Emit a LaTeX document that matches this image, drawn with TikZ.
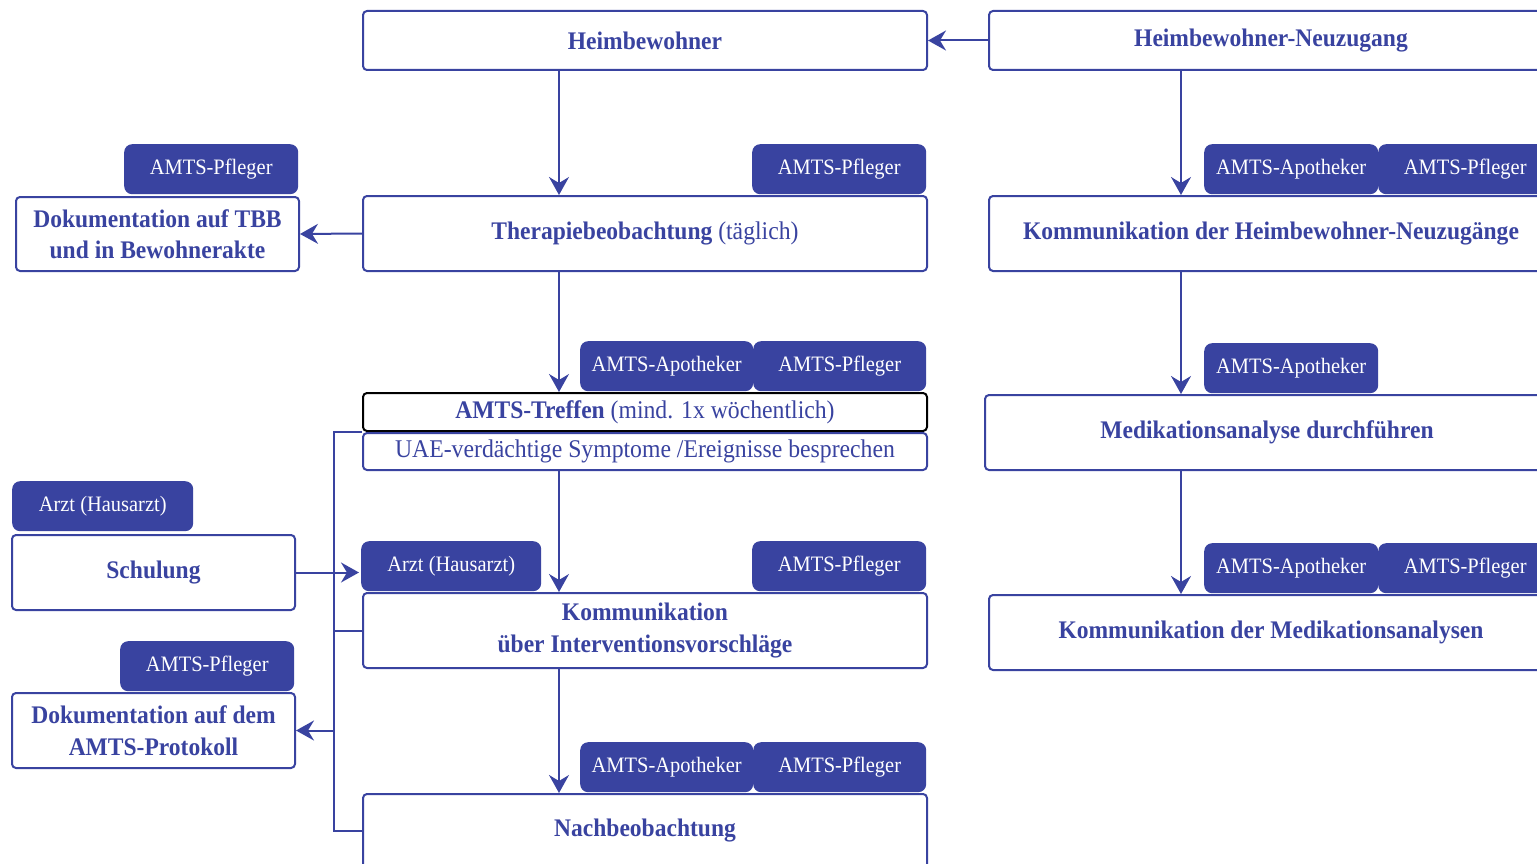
\documentclass[tikz,border=0pt]{standalone}
\usepackage{fontspec}
\setmainfont{Liberation Serif}[FakeStretch=0.93]
\usetikzlibrary{arrows.meta}
\definecolor{amtsblue}{RGB}{57,67,160}
\newcommand\boldlabel{\fontsize{25.3}{31.5}\selectfont\bfseries}
\newcommand\plainlabel{\fontsize{22}{26}\selectfont\mdseries}
\newcommand\boxplain{\fontsize{25.5}{30}\selectfont\mdseries}
\begin{document}
\begin{tikzpicture}[x=1pt,y=-1pt,
  box/.style={draw=amtsblue, line width=2pt, fill=white, rounded corners=4pt,
    anchor=north west, inner sep=0pt, text=amtsblue, font=\boldlabel, align=center},
  tag/.style={fill=amtsblue, rounded corners=8pt, anchor=north west, inner sep=0pt,
    minimum height=50pt, text=white, font=\plainlabel},
  link/.style={draw=amtsblue, line width=2pt},
  arr/.style={link, -{Stealth[length=18pt,width=20pt,inset=6pt]}}]
\useasboundingbox (0,0) rectangle (1537,864);
\clip (0,0) rectangle (1537,864);

% column guides for the vertical connectors
\coordinate (cmid) at (559,0);
\coordinate (cright) at (1181,0);
\coordinate (cbrack) at (334,0);

% role tags (drawn first, so the boxes overlap their lower edge)
\node[tag, minimum width=174] (tTbbPfl) at (124,144) {AMTS-Pfleger};
\node[tag, minimum width=174] (tTherPfl) at (752,144) {AMTS-Pfleger};
\node[tag, minimum width=174] (tNeuApo) at (1204,144) {AMTS-Apotheker};
\node[tag, minimum width=174] (tNeuPfl) at (1378,144) {AMTS-Pfleger};
\node[tag, minimum width=173] (tTrefApo) at (580,341) {AMTS-Apotheker};
\node[tag, minimum width=173] (tTrefPfl) at (753,341) {AMTS-Pfleger};
\node[tag, minimum width=174] (tMedApo) at (1204,343) {AMTS-Apotheker};
\node[tag, minimum width=181] (tSchArzt) at (12,481) {Arzt (Hausarzt)};
\node[tag, minimum width=180] (tKomArzt) at (361,541) {Arzt (Hausarzt)};
\node[tag, minimum width=174] (tKomPfl) at (752,541) {AMTS-Pfleger};
\node[tag, minimum width=174] (tKmApo) at (1204,543) {AMTS-Apotheker};
\node[tag, minimum width=174] (tKmPfl) at (1378,543) {AMTS-Pfleger};
\node[tag, minimum width=174] (tProtPfl) at (120,641) {AMTS-Pfleger};
\node[tag, minimum width=173] (tNachApo) at (580,742) {AMTS-Apotheker};
\node[tag, minimum width=173] (tNachPfl) at (753,742) {AMTS-Pfleger};

% process boxes
\node[box, minimum width=564, minimum height=59] (heim) at (362,10) {Heimbewohner};
\node[box, minimum width=564, minimum height=59] (neu) at (988,10) {Heimbewohner-Neuzugang};
\node[box, minimum width=564, minimum height=75] (thera) at (362,195)
  {Therapiebeobachtung {\boxplain (täglich)}};
\node[box, minimum width=564, minimum height=75] (kneu) at (988,195)
  {Kommunikation der Heimbewohner-Neuzugänge};
\node[box, minimum width=283, minimum height=74] (dtbb) at (15,196)
  {Dokumentation auf TBB\\und in Bewohnerakte};
\node[box, draw=black, minimum width=564, minimum height=38] (treffen) at (362,392)
  {AMTS-Treffen {\boxplain (mind. 1x wöchentlich)}};
\node[box, font=\boxplain, minimum width=564, minimum height=37] (uae) at (362,432)
  {UAE-verdächtige Symptome /Ereignisse besprechen};
\node[box, minimum width=564, minimum height=75] (medi) at (984,394)
  {Medikationsanalyse durchführen};
\node[box, minimum width=283, minimum height=75] (schul) at (11,534) {Schulung};
\node[box, minimum width=564, minimum height=75] (kint) at (362,592)
  {Kommunikation\\über Interventionsvorschläge};
\node[box, minimum width=564, minimum height=75] (kmed) at (988,594)
  {Kommunikation der Medikationsanalysen};
\node[box, minimum width=283, minimum height=75] (dprot) at (11,692)
  {Dokumentation auf dem\\AMTS-Protokoll};
\node[box, minimum width=564, minimum height=74] (nach) at (362,793) {Nachbeobachtung};

% connectors, centre column
\draw[arr] (neu.west) -- (heim.east);
\draw[arr] (heim.south -| cmid) -- (thera.north -| cmid);
\draw[arr] (thera.south -| cmid) -- (treffen.north -| cmid);
\draw[arr] (uae.south -| cmid) -- (kint.north -| cmid);
\draw[arr] (kint.south -| cmid) -- (nach.north -| cmid);
\draw[arr] (thera.west) -- (dtbb.east);

% connectors, right column
\draw[arr] (neu.south -| cright) -- (kneu.north -| cright);
\draw[arr] (kneu.south -| cright) -- (medi.north -| cright);
\draw[arr] (medi.south -| cright) -- (kmed.north -| cright);

% bracket joining the meeting steps
\draw[link] (uae.north west) -- (uae.north west -| cbrack) -- (nach.west -| cbrack) -- (nach.west);
\draw[link] (kint.west -| cbrack) -- (kint.west);
\draw[arr] (dprot.east -| cbrack) -- (dprot.east);
\draw[arr] (schul.east) -- ([xshift=-3pt]schul.east -| kint.west);
\end{tikzpicture}
\end{document}
